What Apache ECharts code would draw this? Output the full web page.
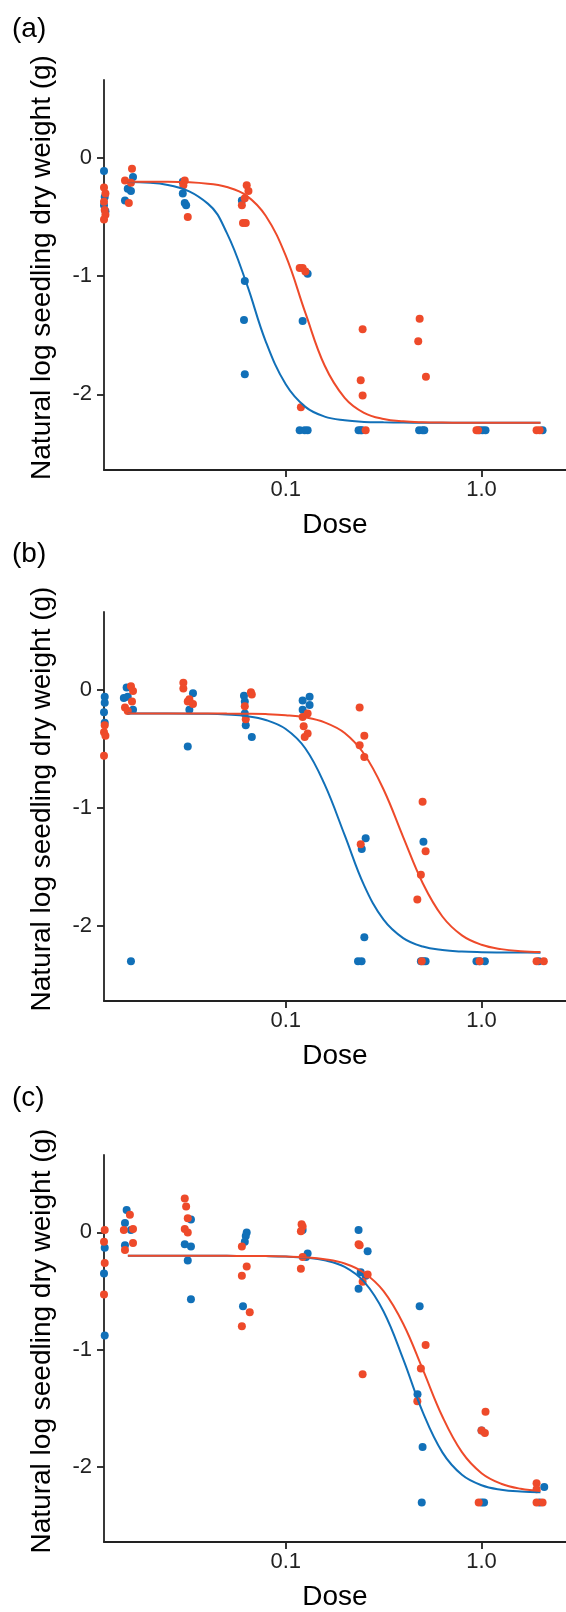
<!DOCTYPE html>
<html><head><meta charset="utf-8">
<script src="https://cdn.jsdelivr.net/npm/echarts@6/dist/echarts.min.js"></script>
<style>html,body{margin:0;padding:0;background:#fff}#chart{width:566px;height:1612px}</style>
</head><body><div id="chart"></div>
<script>
// ---------- data ----------
const panelTitles = ['(a)', '(b)', '(c)'];
const xName = 'Dose';
const yName = 'Natural log seedling dry weight (g)';
const xTickValues = [0.1, 1];
const xTickLabels = ['0.1', '1.0'];
const yTickValues = [-2, -1, 0];

// dose grid for fitted curves
const doseGrid = [0.015625, 0.025, 0.04, 0.05, 0.063, 0.079, 0.1, 0.126, 0.158, 0.2, 0.251, 0.316, 0.398, 0.501, 0.631, 0.794, 1.0, 1.259, 1.585, 2.0];

const aBlueCurve = [-0.204, -0.228, -0.386, -0.634, -1.059, -1.551, -1.915, -2.106, -2.188, -2.220, -2.233, -2.237, -2.239, -2.240, -2.240, -2.240, -2.240, -2.240, -2.240, -2.240];
const aRedCurve  = [-0.200, -0.202, -0.217, -0.245, -0.318, -0.489, -0.827, -1.311, -1.756, -2.029, -2.156, -2.208, -2.228, -2.236, -2.239, -2.240, -2.240, -2.240, -2.240, -2.240];
const bBlueCurve = [-0.200, -0.200, -0.204, -0.210, -0.223, -0.256, -0.333, -0.498, -0.803, -1.233, -1.657, -1.950, -2.106, -2.178, -2.208, -2.221, -2.226, -2.228, -2.229, -2.230];
const bRedCurve  = [-0.200, -0.200, -0.201, -0.202, -0.203, -0.206, -0.215, -0.234, -0.276, -0.366, -0.543, -0.846, -1.249, -1.641, -1.923, -2.083, -2.163, -2.200, -2.217, -2.224];
const cBlueCurve = [-0.200, -0.200, -0.200, -0.200, -0.201, -0.202, -0.206, -0.216, -0.238, -0.294, -0.420, -0.675, -1.081, -1.533, -1.876, -2.067, -2.156, -2.194, -2.210, -2.216];
const cRedCurve  = [-0.200, -0.200, -0.200, -0.200, -0.201, -0.202, -0.206, -0.213, -0.229, -0.265, -0.344, -0.501, -0.779, -1.168, -1.570, -1.874, -2.053, -2.143, -2.186, -2.205];

// observed points [dose (jittered), ln dry weight]
const aBluePts = [
  [0.0118,-0.11],[0.0119,-0.33],[0.0118,-0.40],[0.0120,-0.45],
  [0.0166,-0.16],[0.0156,-0.26],[0.0162,-0.28],[0.0151,-0.36],
  [0.0298,-0.20],[0.0298,-0.30],[0.0305,-0.38],[0.0310,-0.40],
  [0.0597,-0.36],[0.0618,-1.04],[0.0612,-1.37],[0.0618,-1.83],
  [0.1294,-0.98],[0.1220,-1.38],[0.1178,-2.303],[0.1294,-2.303],[0.1250,-2.303],
  [0.2355,-2.303],[0.2415,-2.303],[0.2450,-2.303],
  [0.480,-2.303],[0.500,-2.303],[0.510,-2.303],
  [0.977,-2.303],[1.012,-2.303],[1.048,-2.303],
  [2.05,-2.303]
];
const aRedPts = [
  [0.0118,-0.25],[0.0120,-0.30],[0.0118,-0.37],[0.0119,-0.44],[0.0120,-0.48],[0.0118,-0.52],
  [0.0164,-0.09],[0.0151,-0.19],[0.0162,-0.21],[0.0158,-0.38],
  [0.0305,-0.19],[0.0300,-0.23],[0.0316,-0.50],
  [0.0632,-0.23],[0.0645,-0.28],[0.0618,-0.34],[0.0597,-0.40],[0.0605,-0.55],[0.0625,-0.55],
  [0.1178,-0.93],[0.1220,-0.93],[0.1260,-0.96],[0.1195,-2.11],
  [0.247,-1.45],[0.2415,-1.88],[0.247,-2.01],[0.256,-2.303],
  [0.483,-1.36],[0.475,-1.55],[0.520,-1.85],
  [0.942,-2.303],[0.960,-2.303],
  [1.91,-2.303],[1.98,-2.303]
];
const bBluePts = [
  [0.0119,-0.06],[0.0119,-0.11],[0.0118,-0.19],[0.0119,-0.28],
  [0.0154,0.02],[0.0149,-0.07],[0.0156,-0.06],[0.0166,-0.17],[0.0162,-2.303],
  [0.0336,-0.03],[0.0322,-0.17],[0.0316,-0.48],
  [0.0612,-0.05],[0.0618,-0.10],[0.0618,-0.20],[0.0625,-0.30],[0.0671,-0.40],
  [0.1324,-0.06],[0.1220,-0.09],[0.1324,-0.13],[0.1220,-0.17],
  [0.256,-1.26],[0.2445,-1.35],[0.252,-2.10],[0.234,-2.303],[0.244,-2.303],
  [0.505,-1.29],[0.490,-2.303],[0.505,-2.303],[0.518,-2.303],
  [0.942,-2.303],[0.977,-2.303],[1.040,-2.303],
  [1.96,-2.303]
];
const bRedPts = [
  [0.0119,-0.30],[0.0118,-0.36],[0.0120,-0.39],[0.0118,-0.56],
  [0.0162,0.03],[0.0166,-0.01],[0.0164,-0.10],[0.0151,-0.15],[0.0156,-0.18],
  [0.0300,0.06],[0.0300,0.01],[0.0322,-0.08],[0.0316,-0.10],[0.0336,-0.12],
  [0.0664,-0.02],[0.0671,-0.04],[0.0618,-0.14],[0.0625,-0.25],
  [0.1294,-0.20],[0.1220,-0.23],[0.1235,-0.31],[0.1294,-0.37],[0.1250,-0.40],
  [0.2385,-0.15],[0.252,-0.39],[0.2385,-0.47],[0.252,-0.57],[0.2415,-1.31],
  [0.500,-0.95],[0.518,-1.37],[0.490,-1.57],[0.470,-1.78],[0.495,-2.303],
  [0.977,-2.303],
  [1.91,-2.303],[2.08,-2.303]
];
const cBluePts = [
  [0.0119,-0.13],[0.0118,-0.35],[0.0119,-0.88],
  [0.0154,0.19],[0.0151,0.08],[0.0162,0.02],[0.0151,-0.11],
  [0.0328,0.11],[0.0305,-0.10],[0.0328,-0.12],[0.0316,-0.24],[0.0328,-0.57],
  [0.0632,0.00],[0.0625,-0.03],[0.0618,-0.08],[0.0605,-0.63],
  [0.1220,0.02],[0.1294,-0.18],[0.1270,-0.21],
  [0.2355,0.02],[0.262,-0.16],[0.2415,-0.34],[0.256,-0.37],[0.2355,-0.48],
  [0.483,-0.63],[0.471,-1.38],[0.500,-1.83],[0.495,-2.303],
  [1.00,-1.69],[1.00,-2.303],[1.03,-2.303],
  [2.09,-2.17],[1.98,-2.303]
];
const cRedPts = [
  [0.0119,0.02],[0.0118,-0.08],[0.0119,-0.26],[0.0118,-0.53],
  [0.0160,0.15],[0.0149,0.02],[0.0166,0.03],[0.0166,-0.09],[0.0151,-0.15],
  [0.0305,0.29],[0.0310,0.22],[0.0316,0.12],[0.0305,0.03],[0.0316,0.00],
  [0.0597,-0.12],[0.0632,-0.29],[0.0597,-0.37],[0.0655,-0.68],[0.0597,-0.80],
  [0.1205,0.07],[0.1220,0.05],[0.1195,0.01],[0.1220,-0.21],[0.1195,-0.31],
  [0.2355,-0.10],[0.2385,-0.11],[0.262,-0.36],[0.247,-0.42],[0.247,-1.21],
  [0.518,-0.96],[0.490,-1.16],[0.470,-1.44],
  [1.048,-1.53],[1.00,-1.69],[1.04,-1.71],[0.967,-2.303],
  [1.91,-2.14],[1.91,-2.19],[1.91,-2.303],[2.05,-2.303]
];

// ---------- styling / layout ----------
const BLUE = '#1170b8';
const RED = '#ee4a2a';
const AXIS = '#222';
const FONT = '"Liberation Sans", Arial, sans-serif';
const layout = [
  {top: 80, height: 390, titleY: 31},
  {top: 612, height: 389, titleY: 556},
  {top: 1155, height: 388, titleY: 1100}
];
const panels = [
  {blue: aBluePts, red: aRedPts, blueCurve: aBlueCurve, redCurve: aRedCurve},
  {blue: bBluePts, red: bRedPts, blueCurve: bBlueCurve, redCurve: bRedCurve},
  {blue: cBluePts, red: cRedPts, blueCurve: cBlueCurve, redCurve: cRedCurve}
];

const grids = [], xAxes = [], yAxes = [], series = [], graphics = [];
layout.forEach((L, i) => {
  grids.push({left: 104, top: L.top, width: 462, height: L.height, containLabel: false});
  xAxes.push({
    type: 'log', logBase: 10, gridIndex: i, min: 0.0118, max: 2.7,
    name: xName, nameLocation: 'middle', nameGap: 41,
    nameTextStyle: {fontSize: 28, color: '#000', fontFamily: FONT},
    axisLine: {show: true, onZero: false, lineStyle: {color: AXIS, width: 1.8}},
    axisTick: {show: true, length: 7, lineStyle: {color: AXIS, width: 1.8}, customValues: xTickValues},
    axisLabel: {
      customValues: xTickValues, fontSize: 22, color: '#222', margin: 9, fontFamily: FONT,
      formatter: v => { const k = xTickValues.findIndex(t => Math.abs(t - v) / t < 1e-6); return k >= 0 ? xTickLabels[k] : ''; }
    },
    splitLine: {show: false}, minorTick: {show: false}, minorSplitLine: {show: false}
  });
  yAxes.push({
    type: 'value', gridIndex: i, min: -2.64, max: 0.66,
    name: yName, nameLocation: 'middle', nameGap: 48,
    nameTextStyle: {fontSize: 28, color: '#000', fontFamily: FONT, padding: [0, 0, 0, 15]},
    axisLine: {show: true, onZero: false, lineStyle: {color: AXIS, width: 1.8}},
    axisTick: {show: true, length: 7, lineStyle: {color: AXIS, width: 1.8}, customValues: yTickValues},
    axisLabel: {customValues: yTickValues, fontSize: 22, color: '#222', margin: 12, fontFamily: FONT, formatter: v => String(v)},
    splitLine: {show: false}
  });
  const P = panels[i];
  series.push({type: 'scatter', xAxisIndex: i, yAxisIndex: i, data: P.blue, symbolSize: 8, clip: false,
    itemStyle: {color: BLUE, opacity: 1}, z: 3});
  series.push({type: 'scatter', xAxisIndex: i, yAxisIndex: i, data: P.red, symbolSize: 8, clip: false,
    itemStyle: {color: RED, opacity: 1}, z: 3});
  series.push({type: 'line', xAxisIndex: i, yAxisIndex: i, data: doseGrid.map((d, k) => [d, P.blueCurve[k]]),
    showSymbol: false, smooth: 0.4, lineStyle: {color: BLUE, width: 2}, z: 4});
  series.push({type: 'line', xAxisIndex: i, yAxisIndex: i, data: doseGrid.map((d, k) => [d, P.redCurve[k]]),
    showSymbol: false, smooth: 0.4, lineStyle: {color: RED, width: 2}, z: 5});
  graphics.push({type: 'text', left: 12, top: L.titleY - 16,
    style: {text: panelTitles[i], font: '28px ' + FONT, fill: '#000'}});
});

const chart = echarts.init(document.getElementById('chart'), null, {renderer: 'canvas'});
chart.setOption({
  animation: false,
  backgroundColor: '#fff',
  grid: grids, xAxis: xAxes, yAxis: yAxes, series: series, graphic: graphics
});
</script></body></html>
